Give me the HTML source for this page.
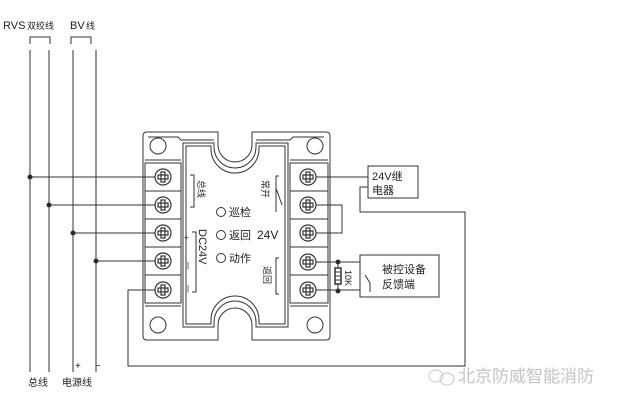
<!DOCTYPE html><html><head><style>body{margin:0;background:#fff}svg{display:block}text{font-family:"Liberation Sans","Noto Sans CJK SC",sans-serif;fill:#222}</style></head><body>
<svg width="640" height="407" viewBox="0 0 640 407" xmlns="http://www.w3.org/2000/svg" fill="none" stroke="#333" stroke-width="1">
<!-- top labels -->
<text x="3" y="29" font-size="11" stroke="none">RVS</text><text x="27" y="29" font-size="9" stroke="none">双绞线</text>
<text x="70" y="29" font-size="11" stroke="none">BV</text><text x="86" y="29" font-size="9" stroke="none">线</text>
<path d="M30 44V37H50V44M71 44V37H91V44"/>
<!-- bus lines -->
<path d="M30 50V372M49 50V372M73 50V372M96 50V372"/>
<circle cx="30" cy="177" r="2" fill="#222"/><circle cx="49" cy="205" r="2" fill="#222"/><circle cx="73" cy="233" r="2" fill="#222"/><circle cx="96" cy="261" r="2" fill="#222"/>
<path d="M30 177H155M49 205H155M73 233H155M96 261H155M155 290H128V366H465V212H360V187H368"/>
<text x="75" y="369" font-size="10" stroke="none">+</text><text x="95" y="369" font-size="10" stroke="none">−</text>
<text x="28" y="386" font-size="10" stroke="none">总线</text><text x="62" y="386" font-size="10" stroke="none">电源线</text>
<!-- device outline -->
<path d="M147 132H218V145A17 17 0 0 0 252 145V132H326Q330 132 330 136V336Q330 340 326 340H252V325A17 17 0 0 0 218 325V340H147Q143 340 143 336V136Q143 132 147 132Z"/>
<path d="M148 137H178L181 140H214M256 140H290L293 137H324"/>
<path d="M183 143H214V147A21 21 0 0 0 256 147V143H288V327H256V322A21 21 0 0 0 214 322V327H183Z"/>
<path d="M186 146H211V149A24 24 0 0 0 259 149V146H285V324H259V320A24 24 0 0 0 211 320V324H186Z"/>
<circle cx="158" cy="146" r="8"/><circle cx="315" cy="146" r="8"/><circle cx="158" cy="325" r="8"/><circle cx="315" cy="325" r="8"/>
<path d="M145 160H181M145 306H181M290 160H328M290 306H328"/>
<g>
<rect x="145" y="163" width="36" height="28"/><rect x="145" y="191" width="36" height="28"/><rect x="145" y="219" width="36" height="28"/><rect x="145" y="247" width="36" height="28"/><rect x="145" y="275" width="36" height="28"/>
<rect x="290" y="163" width="38" height="28"/><rect x="290" y="191" width="38" height="28"/><rect x="290" y="219" width="38" height="28"/><rect x="290" y="247" width="38" height="28"/><rect x="290" y="275" width="38" height="28"/>
</g>
<g stroke-width="1.2">
<circle cx="163" cy="177" r="8"/><circle cx="163" cy="205" r="8"/><circle cx="163" cy="233" r="8"/><circle cx="163" cy="261" r="8"/><circle cx="163" cy="290" r="8"/>
<circle cx="308" cy="177" r="8"/><circle cx="308" cy="205" r="8"/><circle cx="308" cy="233" r="8"/><circle cx="308" cy="262" r="8"/><circle cx="308" cy="290" r="8"/>
<path d="M158 175h10v4h-10zM161 172h4v10h-4zM158 203h10v4h-10zM161 200h4v10h-4zM158 231h10v4h-10zM161 228h4v10h-4zM158 259h10v4h-10zM161 256h4v10h-4zM158 288h10v4h-10zM161 285h4v10h-4z"/>
<path d="M303 175h10v4h-10zM306 172h4v10h-4zM303 203h10v4h-10zM306 200h4v10h-4zM303 231h10v4h-10zM306 228h4v10h-4zM303 260h10v4h-10zM306 257h4v10h-4zM303 288h10v4h-10zM306 285h4v10h-4z"/>
</g>
<path d="M190 175H194V207H190M192 232H196V292H192M279 176H276V212M276 188L282 205M279 258H276V294H279"/>
<text x="0" y="0" font-size="9" stroke="none" transform="translate(198,180) rotate(90)">总线</text>
<text x="0" y="0" font-size="11" stroke="none" transform="translate(199,229) rotate(90)">DC24V</text>
<text x="184" y="240" font-size="8" stroke="none">+</text><text x="187" y="268" font-size="8" stroke="none">|</text><text x="187" y="291" font-size="8" stroke="none">|</text>
<text x="0" y="0" font-size="9" stroke="none" transform="translate(262,180) rotate(90)">常开</text>
<text x="0" y="0" font-size="9" stroke="none" transform="translate(264,266) rotate(90)">返回</text>
<circle cx="221" cy="212" r="4.5"/><circle cx="221" cy="235" r="4.5"/><circle cx="221" cy="258" r="4.5"/>
<text x="229" y="216" font-size="11" stroke="none">巡检</text><text x="229" y="239" font-size="11" stroke="none">返回</text><text x="229" y="262" font-size="11" stroke="none">动作</text>
<text x="257" y="239" font-size="12" stroke="none">24V</text>
<path d="M316 177H368M316 205H342V233H316M316 262H360M316 290H360"/>
<rect x="368" y="166" width="50" height="32"/>
<text x="372" y="180" font-size="11" stroke="none">24V继</text><text x="372" y="194" font-size="11" stroke="none">电器</text>
<rect x="360" y="255" width="79" height="42"/>
<path d="M365 275L370 283M370 283V292"/>
<text x="382" y="273" font-size="11" stroke="none">被控设备</text><text x="382" y="288" font-size="11" stroke="none">反馈端</text>
<circle cx="338" cy="262" r="2" fill="#222"/><circle cx="338" cy="291" r="2" fill="#222"/>
<path d="M338 262V268M338 284V291"/><rect x="335" y="268" width="6" height="16" stroke-width="1.5"/><path d="M335 272H341M335 276H341M335 280H341"/>
<text x="0" y="0" font-size="9" stroke="none" transform="translate(345,270) rotate(90)">10K</text>
<g stroke="#c8c8c8"><ellipse cx="436" cy="376" rx="7" ry="6"/><ellipse cx="447" cy="379" rx="7" ry="6"/></g>
<text x="458" y="382" font-size="17" stroke="none" style="fill:#c4c4c4">北京防威智能消防</text>
</svg></body></html>
